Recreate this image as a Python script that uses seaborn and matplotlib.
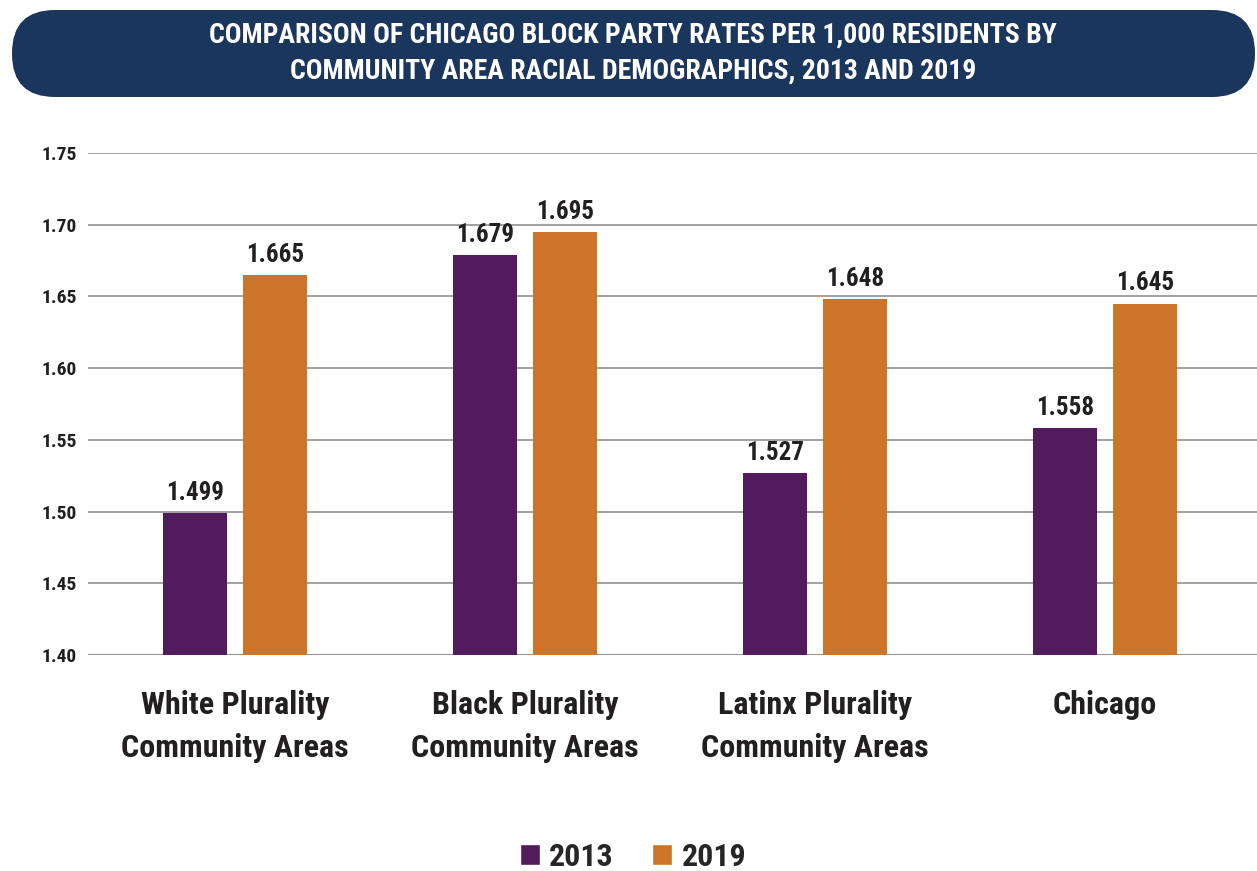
import pandas as pd
import matplotlib
matplotlib.use("Agg")
import matplotlib.pyplot as plt
from matplotlib.patches import FancyBboxPatch, Patch
import seaborn as sns

# Data
areas = ["White Plurality\nCommunity Areas", "Black Plurality\nCommunity Areas",
         "Latinx Plurality\nCommunity Areas", "Chicago"]
rate_2013 = [1.499, 1.679, 1.527, 1.558]
rate_2019 = [1.665, 1.695, 1.648, 1.645]
years = ["2013", "2019"]
y_ticks = [1.40, 1.45, 1.50, 1.55, 1.60, 1.65, 1.70, 1.75]

colors = {"2013": "#521b5e", "2019": "#cc7428"}
navy = "#1b365d"
text_col = "#231f20"

df = pd.DataFrame({
    "area": areas * 2,
    "year": ["2013"] * 4 + ["2019"] * 4,
    "rate": rate_2013 + rate_2019,
})

sns.set_style("white")
plt.rcParams["font.family"] = ["Roboto Condensed", "Fira Sans Condensed", "PT Sans Narrow",
                               "Liberation Sans Narrow", "Roboto", "DejaVu Sans"]
plt.rcParams["font.weight"] = "bold"

W, H = 1257, 871
fig = plt.figure(figsize=(W / 100, H / 100), dpi=100)
ax = fig.add_axes([88 / W, 1 - 655 / H, 1 - 88 / W, (655 - 153) / H])

sns.barplot(data=df, x="area", y="rate", hue="year", palette=colors,
            width=0.55, gap=0.19, ax=ax, legend=False, saturation=1, linewidth=0)

ax.set_ylim(1.40, 1.75)
ax.set_xlim(-0.507, 3.524)
ax.set_yticks(y_ticks)
ax.set_yticklabels([f"{v:.2f}" for v in y_ticks], fontsize=14, fontweight="bold",
                   color=text_col)
ax.yaxis.grid(True, color="#9a9a9a", linewidth=1.3)
ax.set_axisbelow(True)
for s in ax.spines.values():
    s.set_visible(False)
ax.axhline(1.40, color="#6e6e6e", linewidth=1.5, zorder=0.5)
ax.tick_params(axis="y", length=0, pad=8)
ax.tick_params(axis="x", length=0, pad=25)
for lbl in ax.get_xticklabels():
    lbl.set_fontsize(23)
    lbl.set_fontweight("bold")
    lbl.set_color(text_col)
    lbl.set_linespacing(1.55)
    lbl.set_verticalalignment("top")
ax.set_xlabel("")
ax.set_ylabel("")

for cont in ax.containers:
    ax.bar_label(cont, fmt="%.3f", padding=6, fontsize=18, fontweight="bold",
                 color=text_col)

# title banner
bax = fig.add_axes([12 / W, 1 - 97 / H, 1243 / W, 87 / H])
bax.set_xlim(0, 1243)
bax.set_ylim(0, 87)
bax.axis("off")
bax.add_patch(FancyBboxPatch((0, 0), 1243, 87,
                             boxstyle="round,pad=0,rounding_size=43",
                             facecolor=navy, edgecolor="none"))
bax.text(621, 44, "COMPARISON OF CHICAGO BLOCK PARTY RATES PER 1,000 RESIDENTS BY\n"
         "COMMUNITY AREA RACIAL DEMOGRAPHICS, 2013 AND 2019",
         ha="center", va="center", color="white", fontsize=20, fontweight="heavy",
         linespacing=1.4)

handles = [Patch(facecolor=colors[y], label=y) for y in years]
fig.legend(handles=handles, loc="center", bbox_to_anchor=(633 / W, 1 - 857 / H),
           ncol=2, frameon=False, handlelength=0.62, handleheight=0.62,
           columnspacing=1.2, handletextpad=0.3,
           prop={"weight": "bold", "size": 23})

fig.savefig("out.png", dpi=100)
